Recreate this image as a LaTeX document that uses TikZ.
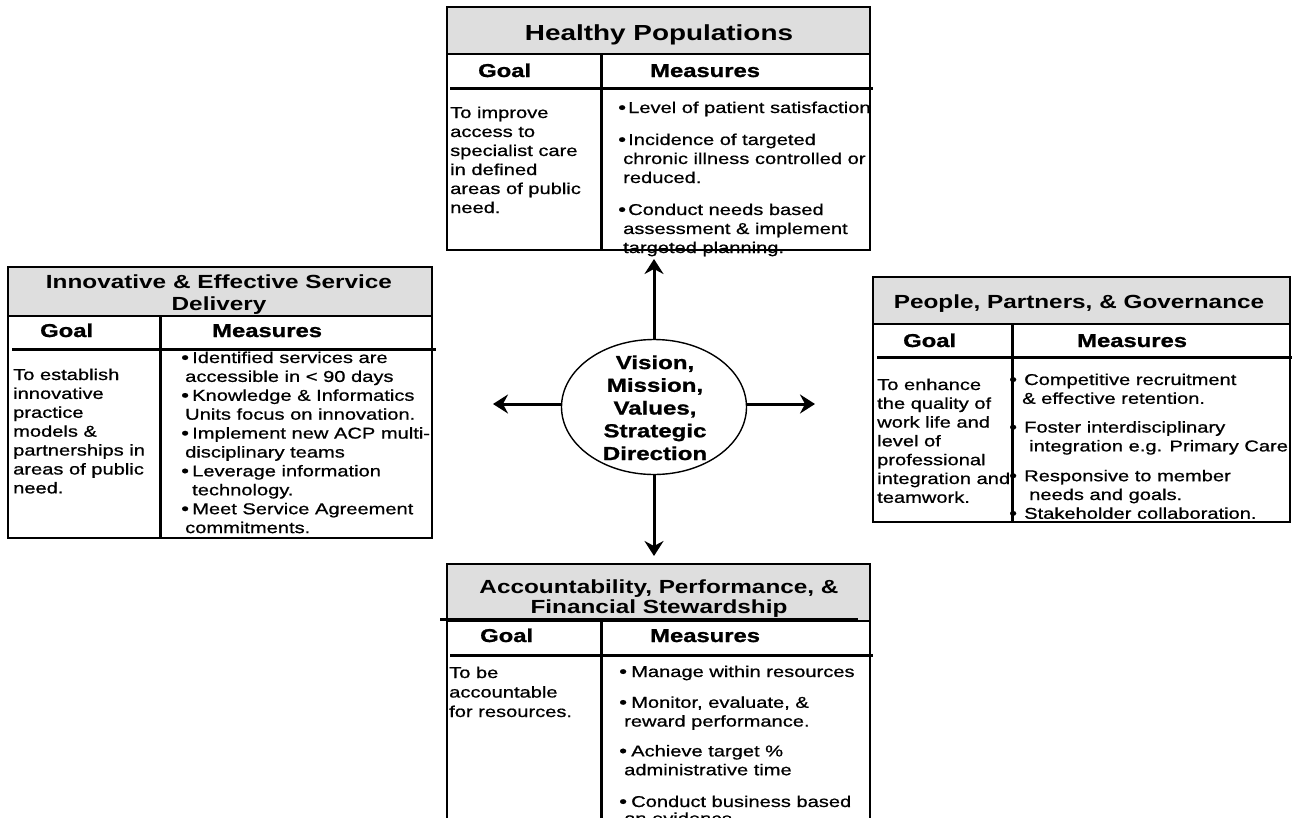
\documentclass[tikz,border=0pt]{standalone}
\usepackage{fontspec}
\setmainfont{Liberation Sans}[FakeStretch=1.28]
\newfontfamily\bodyfont{Liberation Sans}[FakeStretch=1.28, FakeBold=0.8]
\newfontfamily\heavyfont{Liberation Sans}[FakeStretch=1.28, FakeBold=1.2]
\usetikzlibrary{arrows.meta,shapes.geometric}

% stacked lines with a fixed baseline distance; the node baseline is the first line
\newcommand\cstack[2]{\vtop{\baselineskip=#1\relax\lineskiplimit=-20pt\halign{\hfil##\hfil\cr#2\crcr}}}
\newcommand\lstack[2]{\vtop{\baselineskip=#1\relax\lineskiplimit=-20pt\halign{##\hfil\cr#2\crcr}}}
\newcommand\gap[1]{\noalign{\vskip#1}}
\newcommand\bul[1]{\makebox[#1][l]{\raisebox{-0.4pt}{\fontsize{17.5}{18}\selectfont\textbullet}}}

\tikzset{
  hdrfill/.style={fill=black!13, draw=black, line width=1.4pt},
  bord/.style={draw=black, line width=1.4pt},
  heavy/.style={draw=black, line width=3pt},
  hdrtext/.style={inner sep=0pt, anchor=base, font=\bfseries\fontsize{19}{22}\selectfont},
  coltitle/.style={inner sep=0pt, anchor=base west, font=\heavyfont\bfseries\fontsize{18.6}{22}\selectfont},
  body/.style={inner sep=0pt, anchor=base west, font=\bodyfont\fontsize{15.7}{19}\selectfont},
  arr/.style={line width=3pt, -{Stealth[length=15pt,width=19pt,inset=5pt]}},
}

\begin{document}
\begin{tikzpicture}[x=1pt, y=-1pt]
\useasboundingbox (0,0) rectangle (1299,817);

% ---------- Healthy Populations ----------
\draw[hdrfill] (447,7) rectangle (870,54);
\node[hdrtext, font=\bfseries\fontsize{21.8}{24}\selectfont] (hpHead) at (659,40) {Healthy Populations};
\node[coltitle] (hpGoalT) at (478,77) {Goal};
\node[coltitle] (hpMeasT) at (650,77) {Measures};
\node[body] (hpGoal) at (450,118) {\lstack{19pt}{To improve\cr access to\cr specialist care\cr in defined\cr areas of public\cr need.}};
\node[body] (hpMeas) at (618,113) {\lstack{19pt}{%
\bul{10pt}Level of patient satisfaction\cr\gap{13pt}
\bul{10pt}Incidence of targeted\cr
\hspace*{5pt}chronic illness controlled or\cr
\hspace*{5pt}reduced.\cr\gap{13pt}
\bul{10pt}Conduct needs based\cr
\hspace*{5pt}assessment \& implement\cr
\hspace*{5pt}targeted planning.}};
\draw[bord] (447,54) -- (447,250) -- (870,250) -- (870,54);
\draw[heavy] (601,54) -- (601,250);
\draw[heavy] (450,88) -- (873,88);

% ---------- Innovative & Effective Service Delivery ----------
\draw[hdrfill] (8,267) rectangle (432,316);
\node[hdrtext] (isHead) at (219,288) {\cstack{22pt}{Innovative \& Effective Service\cr Delivery}};
\node[coltitle] (isGoalT) at (40,337) {Goal};
\node[coltitle] (isMeasT) at (212,337) {Measures};
\node[body] (isGoal) at (13,380) {\lstack{18.9pt}{To establish\cr innovative\cr practice\cr models \&\cr partnerships in\cr areas of public\cr need.}};
\node[body] (isMeas) at (181,363) {\lstack{18.9pt}{%
\bul{11pt}Identified services are\cr
\hspace*{4pt}accessible in < 90 days\cr
\bul{11pt}Knowledge \& Informatics\cr
\hspace*{4pt}Units focus on innovation.\cr
\bul{11pt}Implement new ACP multi-\cr
\hspace*{4pt}disciplinary teams\cr
\bul{11pt}Leverage information\cr
\hspace*{11pt}technology.\cr
\bul{11pt}Meet Service Agreement\cr
\hspace*{4pt}commitments.}};
\draw[bord] (8,316) -- (8,538) -- (432,538) -- (432,316);
\draw[heavy] (160,316) -- (160,538);
\draw[heavy] (12,349) -- (436,349);

% ---------- People, Partners, & Governance ----------
\draw[hdrfill] (873,277) rectangle (1290,324);
\node[hdrtext] (ppHead) at (1079,308) {People, Partners, \& Governance};
\node[coltitle] (ppGoalT) at (903,347) {Goal};
\node[coltitle] (ppMeasT) at (1077,347) {Measures};
\node[body] (ppGoal) at (877,390) {\lstack{18.8pt}{To enhance\cr the quality of\cr work life and\cr level of\cr professional\cr integration and\cr teamwork.}};
\node[body] (ppMeas) at (1009,385) {\lstack{18.8pt}{%
\bul{15pt}Competitive recruitment\cr
\hspace*{13pt}\& effective retention.\cr\gap{10pt}
\bul{15pt}Foster interdisciplinary\cr
\hspace*{20pt}integration e.g. Primary Care\cr\gap{11pt}
\bul{15pt}Responsive to member\cr
\hspace*{20pt}needs and goals.\cr
\bul{15pt}Stakeholder collaboration.}};
\draw[bord] (873,324) -- (873,522) -- (1290,522) -- (1290,324);
\draw[heavy] (1012,324) -- (1012,522);
\draw[heavy] (877,357) -- (1292,357);

% ---------- Accountability, Performance, & Financial Stewardship ----------
\draw[hdrfill] (447,564) rectangle (870,621);
\node[hdrtext] (apHead) at (659,593) {\cstack{20pt}{Accountability, Performance, \&\cr Financial Stewardship}};
\draw[heavy] (440,619) -- (858,619);
\node[coltitle] (apGoalT) at (480,642) {Goal};
\node[coltitle] (apMeasT) at (650,642) {Measures};
\node[body] (apGoal) at (449,678) {\lstack{19.5pt}{To be\cr accountable\cr for resources.}};
\node[body] (apMeas) at (619,677) {\lstack{18.8pt}{%
\bul{12pt}Manage within resources\cr\gap{12pt}
\bul{12pt}Monitor, evaluate, \&\cr
\hspace*{5pt}reward performance.\cr\gap{11pt}
\bul{12pt}Achieve target \%\cr
\hspace*{5pt}administrative time\cr\gap{13pt}
\bul{12pt}Conduct business based\cr\gap{-2pt}
\hspace*{5pt}on evidence.}};
\draw[bord] (447,621) -- (447,830);
\draw[bord] (870,621) -- (870,830);
\draw[heavy] (601,621) -- (601,830);
\draw[heavy] (450,655) -- (873,655);

% ---------- centre ----------
\node[ellipse, draw=black, line width=1.4pt, minimum width=185pt, minimum height=135pt, inner sep=0pt] (vision) at (654,407) {};
\node[inner sep=0pt, anchor=base, font=\heavyfont\bfseries\fontsize{18.8}{22}\selectfont] (visionText) at (655,369) {\cstack{22.75pt}{Vision,\cr Mission,\cr Values,\cr Strategic\cr Direction}};

\coordinate (upTip) at (654,259);
\coordinate (downTip) at (654,556);
\coordinate (leftTip) at (493,404);
\coordinate (rightTip) at (815,404);
\draw[arr] (vision.north) -- (upTip);
\draw[arr] (vision.south) -- (downTip);
\draw[arr] (vision.west |- leftTip) -- (leftTip);
\draw[arr] (vision.east |- rightTip) -- (rightTip);
\end{tikzpicture}
\end{document}
